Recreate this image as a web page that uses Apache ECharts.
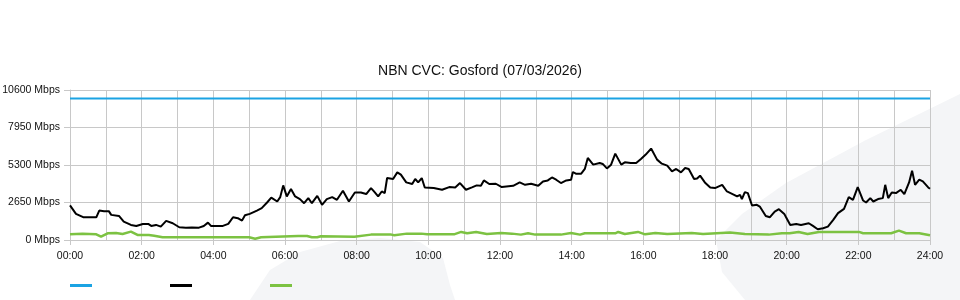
<!DOCTYPE html>
<html>
<head>
<meta charset="utf-8">
<script src="https://cdn.jsdelivr.net/npm/echarts@6/dist/echarts.min.js"></script>
<style>
html,body{margin:0;padding:0;background:#fff;}
#chart{width:960px;height:300px;}
</style>
</head>
<body>
<div id="chart"></div>
<script>
// ---- data (minutes since midnight, Mbps) ----
const titleText = 'NBN CVC: Gosford (07/03/2026)';
const yTicks = [0, 2650, 5300, 7950, 10600];
const xTickLabels = ['00:00','02:00','04:00','06:00','08:00','10:00','12:00','14:00','16:00','18:00','20:00','22:00','24:00'];

const capacityMin = [0, 1440];
const capacityMbps = [10000, 10000];

const downMin = [0,10,22,33,44,46,49,57,65,69,82,90,102,111,122,131,136,144,152,161,172,183,194,204,216,224,231,236,246,256,265,273,281,288,293,301,313,321,330,337,347,352,357,363,370,377,385,392,399,405,414,422,430,439,447,457,467,477,487,496,504,509,516,522,527,531,541,548,554,563,573,578,583,589,594,609,623,635,645,653,663,673,681,688,693,702,713,723,742,753,762,772,784,792,800,807,814,822,831,839,842,847,856,862,867,876,887,892,899,906,913,923,929,939,948,956,964,973,983,991,1000,1008,1015,1023,1030,1036,1045,1050,1055,1063,1072,1080,1092,1100,1112,1117,1122,1125,1130,1135,1142,1150,1155,1165,1172,1180,1187,1196,1199,1206,1216,1224,1237,1244,1252,1261,1269,1278,1286,1296,1304,1311,1319,1328,1333,1340,1345,1353,1361,1365,1370,1376,1383,1391,1397,1405,1410,1415,1422,1428,1437,1440];
const downMbps = [2450,1850,1610,1600,1600,1470,2080,2040,2040,1775,1700,1300,1065,994,1136,1136,994,1065,944,1349,1185,900,873,880,873,994,1230,994,994,994,1136,1610,1540,1370,1750,1846,2080,2250,2650,3000,2720,3030,3860,3080,3600,3080,2890,2600,2960,2600,3120,2485,2890,3030,2840,3480,2720,3360,3360,3245,3670,3430,3080,3430,3315,4380,4310,4780,4615,4070,3955,4310,4070,4380,3715,3670,3550,3740,3715,4025,3550,3715,3860,3830,4210,3955,3975,3740,3830,4070,3900,3975,3830,4140,4210,4420,4260,4025,4210,4260,4805,4685,4685,5020,5800,5325,5445,5375,5060,5325,6105,5325,5490,5445,5445,5730,6035,6460,5680,5395,5255,4850,5020,4780,5090,5020,4310,4350,4545,4070,3715,3670,3900,3430,3195,3080,3195,2890,3385,3315,2435,2485,2365,1700,1610,2010,2180,1846,1610,1065,1136,1065,1185,994,760,830,944,1420,1895,2200,3030,2840,3740,2790,2650,2960,2720,2890,2960,3900,2960,3360,3315,3550,3245,4070,4900,3900,4260,4140,3715,3620];

const upMin = [0,21,44,52,63,77,88,102,113,132,141,155,240,300,310,320,382,397,405,414,420,476,504,538,543,564,588,598,643,655,665,680,698,722,740,755,767,779,822,839,854,862,913,918,929,951,963,980,1000,1041,1060,1105,1130,1170,1192,1205,1220,1235,1254,1321,1328,1375,1388,1400,1422,1440];
const upMbps = [405,450,405,235,475,500,425,590,355,355,305,190,190,190,95,190,285,285,190,190,260,235,380,380,330,450,450,400,400,570,475,570,425,500,450,380,475,380,380,500,380,475,475,570,425,570,400,500,425,500,425,525,425,380,475,475,570,425,570,570,475,475,660,475,475,330];

const seriesNames = ['CVC Capacity', 'Download', 'Upload'];
const seriesColors = ['#1ba3e3', '#000000', '#7cc242'];

function pairs(xs, ys){ return xs.map((x,i)=>[x, ys[i]]); }

const chart = echarts.init(document.getElementById('chart'), null, {renderer:'canvas'});
const font = '"Liberation Sans", Arial, sans-serif';
const gridColor = '#c8c8c8';

chart.setOption({
  animation: false,
  backgroundColor: '#ffffff',
  textStyle: { fontFamily: font },
  graphic: [
    { type: 'polygon', z: -10, silent: true,
      shape: { points: [[960,94],[866,140],[786,183],[742,214],[716,240],[722,272],[745,300],[960,300]] },
      style: { fill: '#f4f5f7' } },
    { type: 'polygon', z: -10, silent: true,
      shape: { points: [[250,300],[270,270],[300,252],[340,241],[380,238],[420,242],[443,258],[450,285],[455,300]] },
      style: { fill: '#f4f5f7' } }
  ],
  title: {
    text: titleText, left: 'center', top: 59,
    textStyle: { fontSize: 14, fontWeight: 'normal', color: '#111', fontFamily: font }
  },
  legend: {
    left: 65, top: 279, itemWidth: 22, itemHeight: 3, itemGap: 78,
    icon: 'rect', formatter: () => '', selectedMode: false,
    data: seriesNames
  },
  grid: { left: 70, right: 30, top: 90, bottom: 60, containLabel: false, outerBoundsMode: 'none' },
  xAxis: {
    type: 'value', min: 0, max: 1440, interval: 120,
    axisLine: { show: true, lineStyle: { color: gridColor } },
    axisTick: { show: true, length: 5, lineStyle: { color: gridColor } },
    axisLabel: { color: '#111', fontSize: 10.5, margin: 11,
      formatter: (v) => xTickLabels[Math.round(v/120)] },
    splitLine: { show: true, lineStyle: { color: gridColor, width: 1 } },
    minorTick: { show: false, splitNumber: 2 },
    minorSplitLine: { show: true, lineStyle: { color: gridColor, width: 1 } }
  },
  yAxis: {
    type: 'value', min: yTicks[0], max: yTicks[yTicks.length-1], interval: 2650,
    axisLine: { show: true, lineStyle: { color: gridColor } },
    axisTick: { show: true, length: 6, lineStyle: { color: gridColor } },
    axisLabel: { color: '#111', fontSize: 10.5, margin: 10, formatter: (v) => v + ' Mbps' },
    splitLine: { show: true, lineStyle: { color: gridColor, width: 1 } }
  },
  series: [
    { name: seriesNames[0], type: 'line', data: pairs(capacityMin, capacityMbps),
      showSymbol: false, symbol: 'none', lineStyle: { color: seriesColors[0], width: 2 },
      itemStyle: { color: seriesColors[0] }, z: 3 },
    { name: seriesNames[2], type: 'line', data: pairs(upMin, upMbps),
      showSymbol: false, symbol: 'none', lineStyle: { color: seriesColors[2], width: 2.5 },
      itemStyle: { color: seriesColors[2] }, z: 4 },
    { name: seriesNames[1], type: 'line', data: pairs(downMin, downMbps),
      showSymbol: false, symbol: 'none', lineStyle: { color: seriesColors[1], width: 2 },
      itemStyle: { color: seriesColors[1] }, z: 5 }
  ]
});
</script>
</body>
</html>
